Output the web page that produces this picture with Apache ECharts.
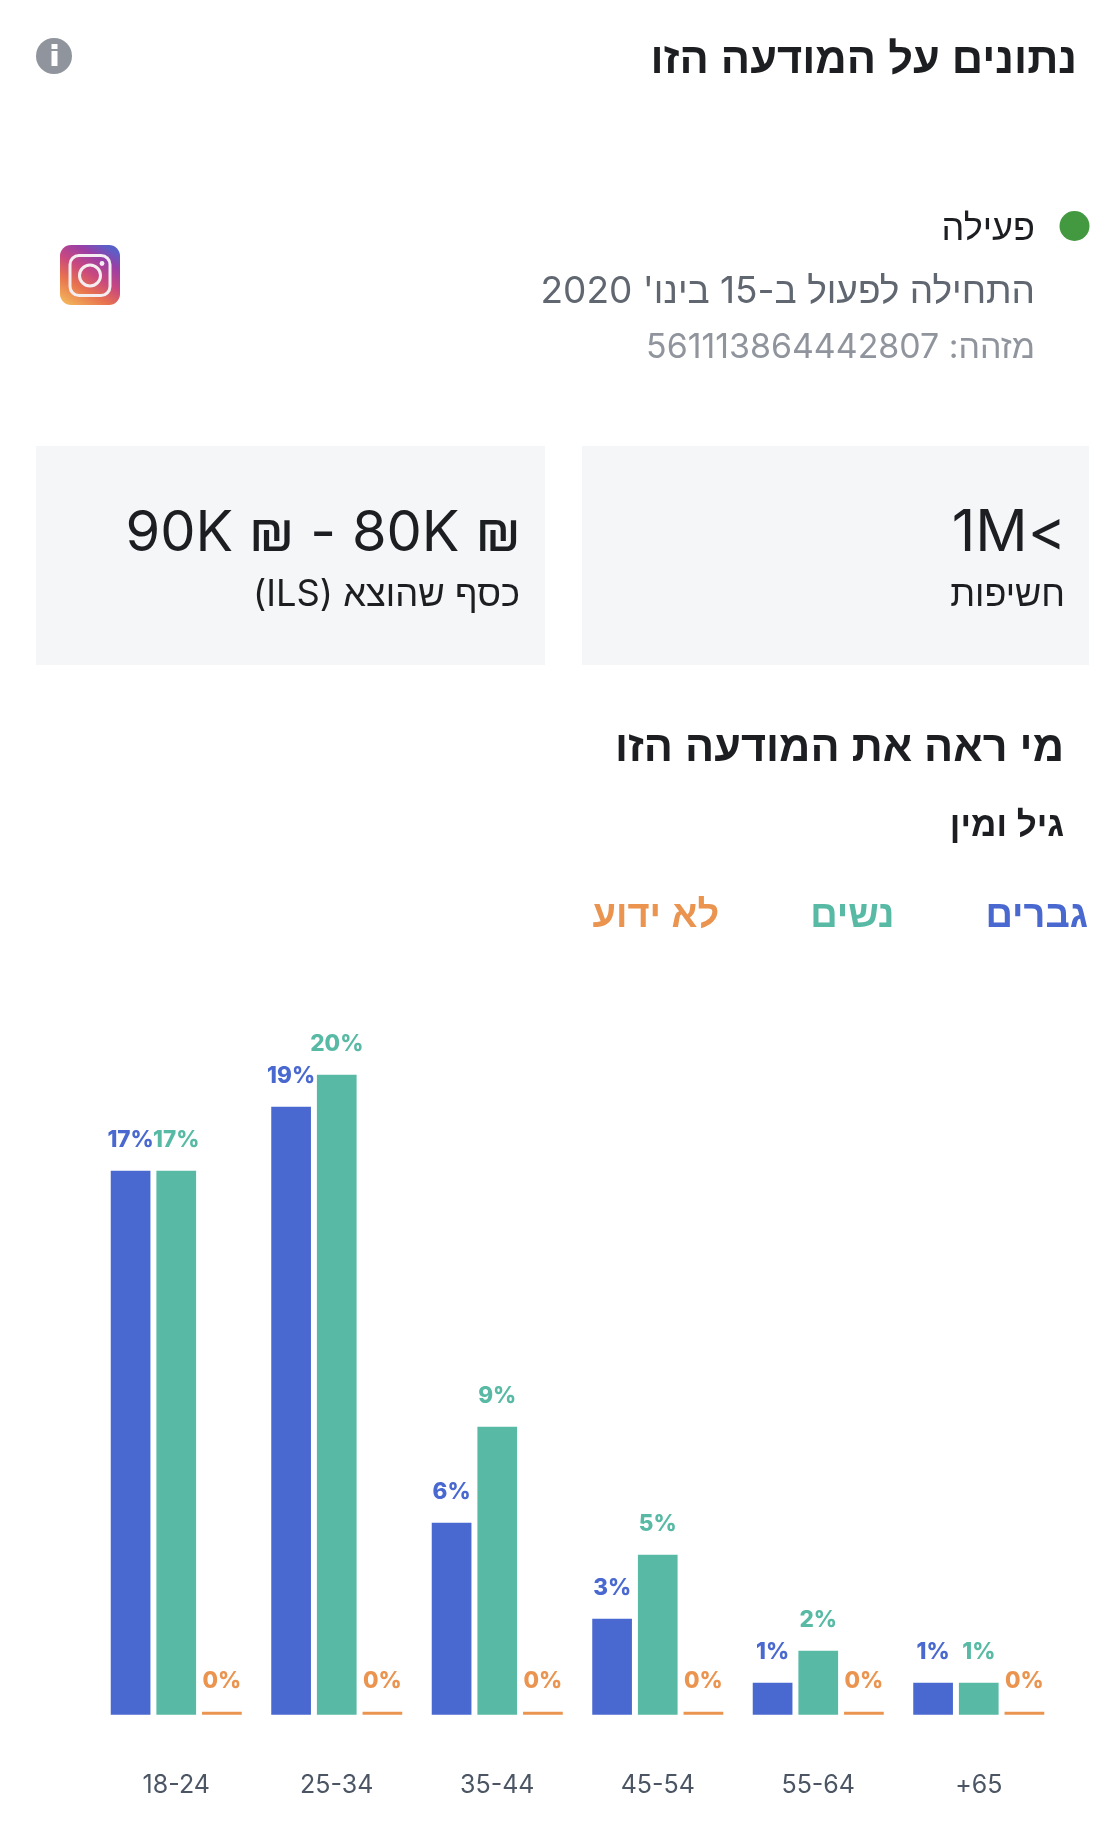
<!DOCTYPE html>
<html dir="rtl" lang="he">
<head>
<meta charset="utf-8">
<style>html,body{margin:0;padding:0;background:#fff}#c{width:1120px;height:1827px}</style>
<script src="https://cdn.jsdelivr.net/npm/echarts@6/dist/echarts.min.js"></script>
</head>
<body>
<div id="c"></div>
<script>
const categories = ['18-24','25-34','35-44','45-54','55-64','65+'];
const men = [17,19,6,3,1,1];
const women = [17,20,9,5,2,1];
const unknown = [0,0,0,0,0,0];
const seriesNames = ['גברים','נשים','לא ידוע'];
const seriesColors = ['#4a69d0','#58baa5','#ea9450'];
const HEB = 'Inter,"Liberation Sans","DejaVu Sans",sans-serif';
const HEBB = '"Liberation Sans","DejaVu Sans",sans-serif';
const LAT = 'Inter,"Liberation Sans",sans-serif';

function txt(text, x, y, size, color, weight, family, align){
  return {type:'text', silent:true, x:x, y:y, style:{text:text, fontSize:size, fill:color,
    fontWeight:weight||'normal', fontFamily:family||HEB, align:align||'right', verticalAlign:'middle'}};
}
function rect(x,y,w,h,fill,r){return {type:'rect',silent:true,shape:{x:x,y:y,width:w,height:h,r:r||0},style:{fill:fill}};}

const graphicEls = [
  rect(36,446,509,219,'#f5f6f7'),
  rect(582,446,507,219,'#f5f6f7'),
  {type:'circle',silent:true,shape:{cx:54,cy:56,r:18},style:{fill:'#90949c'}},
  rect(51.5,51,6,15,'#fff'),
  rect(51.5,44,6,5,'#fff'),
  {type:'circle',silent:true,shape:{cx:1074.5,cy:226,r:15},style:{fill:'#43993f'}},
  {type:'rect',silent:true,shape:{x:60,y:245,width:60,height:60,r:11},style:{fill:{
    type:'linear',x:0.15,y:1,x2:0.75,y2:0,colorStops:[
      {offset:0,color:'#f2b35a'},{offset:0.3,color:'#e8724f'},{offset:0.55,color:'#c9487f'},
      {offset:0.8,color:'#9a3fa5'},{offset:1,color:'#5a5fc8'}]}}},
  {type:'rect',silent:true,shape:{x:70,y:255.5,width:40,height:40,r:9},style:{fill:'none',stroke:'#f4eef0',lineWidth:3}},
  {type:'circle',silent:true,shape:{cx:90,cy:275.5,r:10.5},style:{fill:'none',stroke:'#f4eef0',lineWidth:3}},
  {type:'circle',silent:true,shape:{cx:102,cy:263.5,r:2.4},style:{fill:'#f4eef0'}},
  txt('נתונים על המודעה הזו',1077,61.5,43.4,'#1c1e21','bold',HEBB),
  txt('פעילה',1035,229,36,'#1c1e21'),
  txt("התחילה לפעול ב-15 בינו' 2020",1035,292,37,'#606770'),
  txt('מזהה: 561113864442807',1035,348,33.9,'#90949c'),
  txt('>1M',1066,534,58,'#1c1e21'),
  txt('חשיפות',1065,595,36,'#1c1e21'),
  txt('\u200e90K ₪ - 80K ₪\u200e',521,534,56,'#1c1e21'),
  txt('כסף שהוצא (ILS)',520,595,36.3,'#1c1e21'),
  txt('מי ראה את המודעה הזו',1064,749,43.2,'#1c1e21','bold',HEBB),
  txt('גיל ומין',1064,826,35,'#1c1e21','bold',HEBB)
];

function barSeries(i, data){
  return {
    name: seriesNames[i], type:'bar', data:data, barWidth:39.7, barGap:'15%', barMinHeight:3,
    itemStyle:{color:seriesColors[i]},
    label:{show:true, position:'top', distance:18.5, formatter:'{c}%', color:seriesColors[i],
      fontFamily:LAT, fontWeight:800, fontSize:22.5}
  };
}

const chart = echarts.init(document.getElementById('c'), null, {width:1120, height:1827});
chart.setOption({
  animation:false,
  backgroundColor:'#fff',
  graphic:graphicEls,
  legend:{
    data:[
      {name:seriesNames[2],icon:'none',textStyle:{color:seriesColors[2]}},
      {name:seriesNames[1],icon:'none',textStyle:{color:seriesColors[1]}},
      {name:seriesNames[0],icon:'none',textStyle:{color:seriesColors[0]}}
    ],
    selectedMode:false, right:27, top:893, itemWidth:0, itemHeight:0, itemGap:86,
    textStyle:{fontFamily:HEBB,fontWeight:'bold',fontSize:38}
  },
  grid:{left:96,width:963,top:1042.7,height:672},
  xAxis:{type:'category',data:categories,axisLine:{show:false},axisTick:{show:false},
    axisLabel:{margin:58,color:'#4b5563',fontFamily:LAT,fontSize:25}},
  yAxis:{type:'value',min:0,max:21,show:false,splitLine:{show:false}},
  series:[barSeries(0,men),barSeries(1,women),barSeries(2,unknown)]
});
</script>
</body>
</html>
